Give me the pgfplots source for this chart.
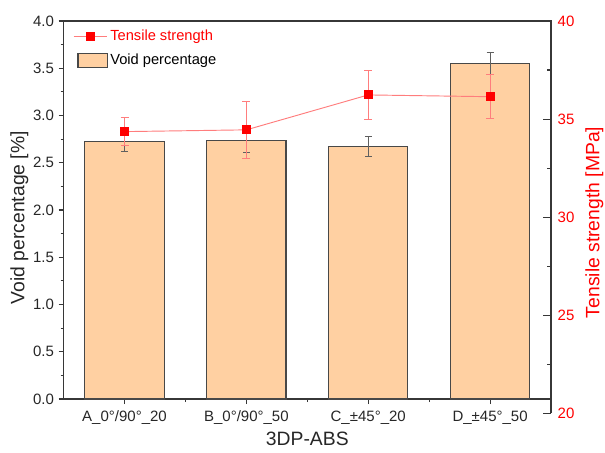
\documentclass[border=0pt]{standalone}
\usepackage{fontspec}
\setmainfont{Liberation Sans}
\usepackage{pgfplots}
\pgfplotsset{compat=1.18}
\usepackage{pgfplotstable}
\definecolor{barfill}{RGB}{255,208,162}
\definecolor{bardraw}{RGB}{72,72,72}
\definecolor{axgray}{RGB}{55,55,55}
\definecolor{errgray}{RGB}{95,95,95}
\definecolor{pale}{RGB}{255,125,125}
\definecolor{tred}{RGB}{255,0,0}

\pgfplotsset{
 mylinelegend/.style={legend image code/.code={\draw[mark repeat=2, mark phase=2, ##1] plot coordinates {(0pt,0pt) (12.4pt,0pt) (24.75pt,0pt)};}},
 myboxlegend/.style={legend image code/.code={\draw[##1] (3.2pt,-5.25pt) rectangle (25pt,5.25pt);}},
}

\pgfplotstableread{
x v e
1 2.72 0.10
2 2.74 0.13
3 2.67 0.105
4 3.55 0.12
}\voidtab
\pgfplotstableread{
x t e
1 34.36 0.70
2 34.45 1.45
3 36.23 1.27
4 36.14 1.13
}\tentab

\begin{document}
\begin{tikzpicture}
\begin{axis}[
 at={(0pt,0pt)}, anchor=south west,
 scale only axis, width=365.55pt, height=283.5pt,
 xmin=0.5, xmax=4.5, ymin=0, ymax=4,
 axis line style={axgray, line width=0.9pt},
 every tick/.style={axgray, line width=0.8pt},
 tick align=outside,
 major tick length=3.75pt, minor tick length=2.25pt,
 xtick={1,2,3,4},
 xticklabels={A\_0°/90°\_20, B\_0°/90°\_50, C\_±45°\_20, D\_±45°\_50},
 minor xtick={1.5,2.5,3.5},
 xtick pos=left, ytick pos=left,
 ytick={0,0.5,...,4},
 minor ytick={0.25,0.75,...,3.75},
 /pgf/number format/assume math mode=true,
 yticklabel style={/pgf/number format/fixed, /pgf/number format/fixed zerofill, /pgf/number format/precision=1},
 ticklabel style={font=\fontsize{11.25pt}{13pt}\selectfont, text=black!85},
 xticklabel style={yshift=-1.5pt},
 xlabel={3DP-ABS}, ylabel={Void percentage [\%]},
 label style={font=\fontsize{14.5pt}{17pt}\selectfont, text=black!85},
 xlabel style={at={(axis description cs:0.5,-0.106)}, anchor=center},
 ylabel style={at={(axis description cs:-0.0905,0.48)}, anchor=center},
]
\addplot[ybar, bar width=0.65, fill=barfill, draw=bardraw, line width=0.8pt,
 error bars/.cd, y dir=both, y explicit,
 error bar style={errgray, line width=0.6pt},
 error mark options={rotate=90, errgray, mark size=2.6pt, line width=0.6pt}]
 table[x=x, y=v, y error=e]{\voidtab};
\end{axis}
\begin{axis}[
 at={(0pt,-10.7pt)}, anchor=south west,
 scale only axis, width=365.55pt, height=294.2pt,
 xmin=0.5, xmax=4.5, ymin=20, ymax=40,
 axis x line=none, axis y line*=right,
 axis line style={axgray, line width=0.9pt, -},
 every tick/.style={axgray, line width=0.8pt},
 tick align=inside, major tick length=6pt, minor tick length=3pt,
 ytick={20,25,...,40}, minor ytick={22.5,27.5,32.5,37.5},
 /pgf/number format/assume math mode=true,
 ticklabel style={font=\fontsize{11.25pt}{13pt}\selectfont},
 yticklabel style={text=tred, xshift=1.5pt},
 ylabel={Tensile strength [MPa]},
 ylabel style={font=\fontsize{14.5pt}{17pt}\selectfont, text=tred, at={(axis description cs:1.089,0.4865)}, anchor=center},
 legend style={at={(axis description cs:0.0193,0.984)}, anchor=north west, draw=none, fill=none,
   font=\fontsize{11pt}{13pt}\selectfont, row sep=4.2pt, inner sep=0pt, cells={anchor=west}},
 legend cell align=left,
]
\addplot[pale, line width=0.7pt, mark=square*, mark size=3pt, mark options={fill=tred, draw=tred},
 mylinelegend,
 error bars/.cd, y dir=both, y explicit,
 error bar style={pale, line width=0.6pt},
 error mark options={rotate=90, pale, mark size=3pt, line width=0.6pt}]
 table[x=x, y=t, y error=e]{\tentab};
\addlegendentry{\textcolor{tred}{Tensile strength}}
\addlegendimage{myboxlegend, fill=barfill, draw=bardraw, line width=0.8pt}
\addlegendentry{Void percentage}
\end{axis}
\pgfresetboundingbox
\path (-47.7pt,-39.75pt) rectangle (406.05pt,299.25pt);
\end{tikzpicture}
\end{document}
